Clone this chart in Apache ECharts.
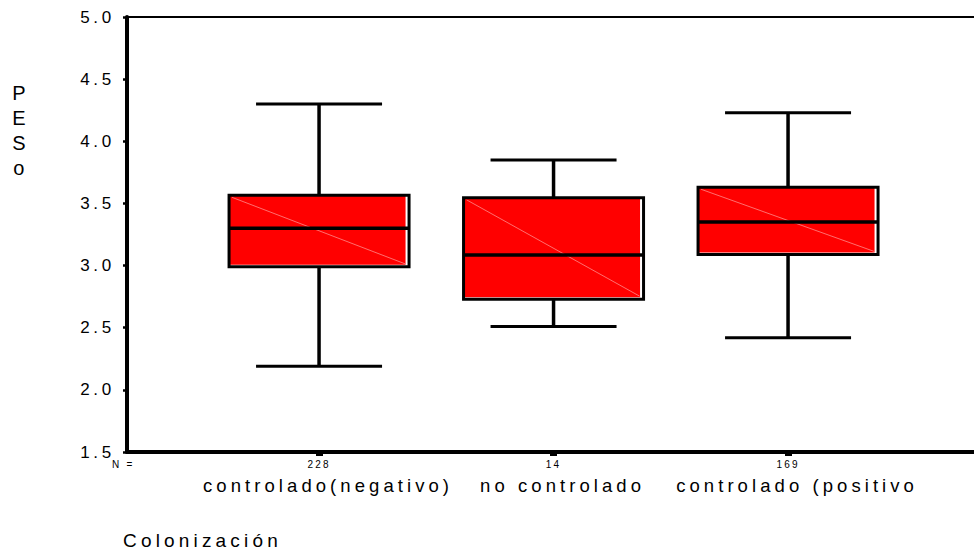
<!DOCTYPE html>
<html>
<head>
<meta charset="utf-8">
<script src="https://cdn.jsdelivr.net/npm/echarts@6/dist/echarts.min.js"></script>
<style>
  html, body { margin: 0; padding: 0; background: #fff; }
  #chart { width: 974px; height: 549px; }
  #chart text { letter-spacing: 0.22em; }
</style>
</head>
<body>
<div id="chart"></div>
<script>
// ---- data ----
const categories = ['controlado(negativo)', 'no controlado', 'controlado (positivo'];
const counts = ['228', '14', '169'];
const whiskerLow = [2.19, 2.51, 2.42];
const q1 = [2.99, 2.73, 3.09];
const median = [3.30, 3.085, 3.35];
const q3 = [3.565, 3.545, 3.63];
const whiskerHigh = [4.30, 3.85, 4.23];
const yMin = 1.5, yMax = 5.0, yStep = 0.5;
const yTitle = 'P\nE\nS\no';
const xTitle = 'Colonización';
const nLabel = 'N =';

const FONT = "'Liberation Sans', Arial, sans-serif";
const boxData = categories.map((c, i) => [i, whiskerLow[i], q1[i], median[i], q3[i], whiskerHigh[i]]);
const catIdx = categories.map((c, i) => i);

const BOX_W = 180, CAP_W = 126;

function renderBox(params, api) {
  const x = api.value(0);
  const pLow = api.coord([x, api.value(1)]);
  const pQ1 = api.coord([x, api.value(2)]);
  const pMed = api.coord([x, api.value(3)]);
  const pQ3 = api.coord([x, api.value(4)]);
  const pHigh = api.coord([x, api.value(5)]);
  const cx = pLow[0];
  const x0 = cx - BOX_W / 2, x1 = cx + BOX_W / 2;
  const top = pQ3[1], bot = pQ1[1];
  const black = { stroke: '#000', lineWidth: 3.5, fill: null };
  return {
    type: 'group',
    children: [
      { type: 'line', shape: { x1: cx, y1: pHigh[1], x2: cx, y2: top }, style: black },
      { type: 'line', shape: { x1: cx, y1: bot, x2: cx, y2: pLow[1] }, style: black },
      { type: 'line', shape: { x1: cx - CAP_W / 2, y1: pHigh[1], x2: cx + CAP_W / 2, y2: pHigh[1] }, style: { stroke: '#000', lineWidth: 3 } },
      { type: 'line', shape: { x1: cx - CAP_W / 2, y1: pLow[1], x2: cx + CAP_W / 2, y2: pLow[1] }, style: { stroke: '#000', lineWidth: 3 } },
      { type: 'rect', shape: { x: x0, y: top, width: BOX_W, height: bot - top }, style: { fill: '#fff' } },
      { type: 'rect', shape: { x: x0, y: top, width: BOX_W - 3.5, height: bot - top - 2 }, style: { fill: '#ff0000' } },
      { type: 'line', shape: { x1: x0 + 3, y1: top + 2, x2: x1 - 4, y2: bot - 3 }, style: { stroke: '#ff8a8a', lineWidth: 0.8 } },
      { type: 'line', shape: { x1: x0, y1: pMed[1], x2: x1, y2: pMed[1] }, style: { stroke: '#000', lineWidth: 3.5 } },
      { type: 'rect', shape: { x: x0, y: top, width: BOX_W, height: bot - top }, style: { fill: null, stroke: '#000', lineWidth: 3 } }
    ]
  };
}

const chart = echarts.init(document.getElementById('chart'), null, { renderer: 'svg' });
const xMin = -0.819, xMax = 3.019;
chart.setOption({
  animation: false,
  backgroundColor: '#fff',
  textStyle: { fontFamily: FONT, color: '#000' },
  grid: { left: 127, top: 17, width: 900, height: 435, outerBoundsMode: 'none', containLabel: false, show: true, borderColor: '#000', borderWidth: 2, backgroundColor: 'transparent' },
  xAxis: [
    {
      type: 'value', min: xMin, max: xMax, position: 'bottom',
      axisLine: { show: true, onZero: false, lineStyle: { color: '#000', width: 4 } },
      axisTick: { show: true, customValues: catIdx, length: 4, lineStyle: { color: '#000', width: 7 } },
      axisLabel: { show: true, customValues: catIdx, formatter: v => counts[Math.round(v)], fontSize: 10, color: '#000', margin: 7, fontFamily: FONT },
      splitLine: { show: false }
    },
    {
      type: 'value', min: xMin, max: xMax, position: 'bottom', gridIndex: 0,
      axisLine: { show: false }, axisTick: { show: false },
      axisLabel: { show: true, customValues: catIdx, formatter: v => categories[Math.round(v)], fontSize: 18.5, color: '#000', margin: 24, padding: [0, 0, 0, 18], fontFamily: FONT },
      splitLine: { show: false }
    }
  ],
  yAxis: {
    type: 'value', min: yMin, max: yMax, interval: yStep,
    axisLine: { show: true, onZero: false, lineStyle: { color: '#000', width: 4 } },
    axisTick: { show: true, length: 4, lineStyle: { color: '#000', width: 2.5 } },
    axisLabel: { formatter: v => v.toFixed(1), fontSize: 17, color: '#000', margin: 12, fontFamily: FONT },
    splitLine: { show: false }
  },
  graphic: [
    { type: 'text', x: 21, y: 80, style: { text: yTitle, font: '20px ' + FONT, fill: '#000', textAlign: 'center', lineHeight: 25 } },
    { type: 'text', x: 112, y: 464, style: { text: nLabel, font: '10px ' + FONT, fill: '#000', textAlign: 'left', textVerticalAlign: 'middle' } },
    { type: 'text', x: 123, y: 540, style: { text: xTitle, font: '19px ' + FONT, fill: '#000', textAlign: 'left', textVerticalAlign: 'middle' } }
  ],
  series: [{
    type: 'custom',
    xAxisIndex: 0,
    renderItem: renderBox,
    encode: { x: 0, y: [1, 2, 3, 4, 5] },
    data: boxData,
    clip: false
  }]
});
</script>
</body>
</html>
